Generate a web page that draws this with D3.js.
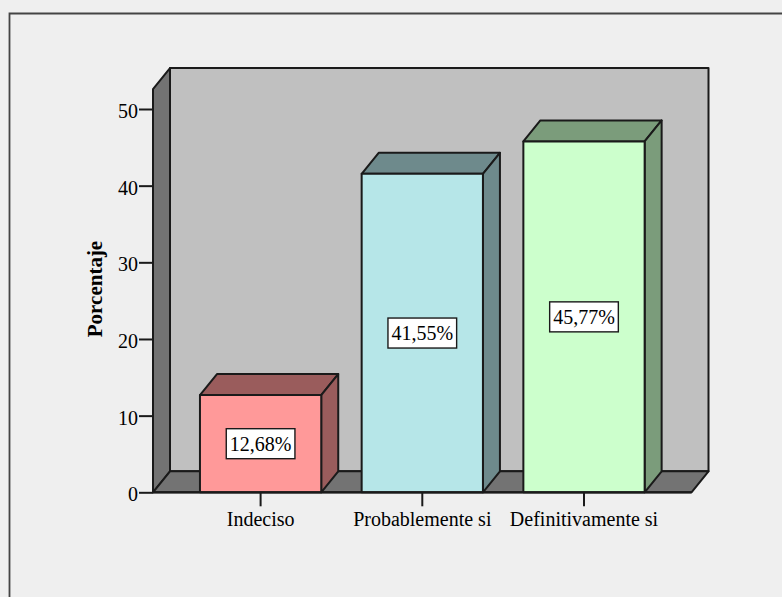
<!DOCTYPE html>
<html><head><meta charset="utf-8">
<script src="https://cdn.jsdelivr.net/npm/d3@7"></script>
<style>html,body{margin:0;padding:0;background:#efefef;overflow:hidden}svg{display:block}text{font-family:"Liberation Serif",serif;fill:#000}</style>
</head><body><svg id="c" width="782" height="597"></svg>
<script>
const categories = ["Indeciso","Probablemente si","Definitivamente si"];
const values = [12.68,41.55,45.77];
const labels = ["12,68%","41,55%","45,77%"];
const faceColors = ["#ff9999","#b6e6e8","#ccffcc"];
const sideColors = ["#9a5c5c","#6e8a8c","#7b9c7b"];
const yTicks = [0,10,20,30,40,50];
const yTitle = "Porcentaje";

const svg = d3.select("#c");
const ink = "#1a1a1a";
const dx = 17, dy = -21;
const x = d3.scaleBand().domain(categories).range([179.75,664.85]).paddingInner(0.25).paddingOuter(0.125);
const y = d3.scaleLinear().domain([0,50]).range([492.3,109]);
const plotLeft = 153, plotRight = 691.5, plotTop = y(52.6), plotBot = y(0);

// outer frame
svg.append("path").attr("d","M9.5,597V13.5H782").attr("fill","none").attr("stroke","#444").attr("stroke-width",1.8);

const poly = (pts,fill)=>svg.append("polygon").attr("points",pts.map(p=>p.join(",")).join(" "))
  .attr("fill",fill).attr("stroke",ink).attr("stroke-width",2).attr("stroke-linejoin","round");

// walls and floor
poly([[plotLeft+dx,plotTop+dy],[plotRight+dx,plotTop+dy],[plotRight+dx,plotBot+dy],[plotLeft+dx,plotBot+dy]],"#c0c0c0");
poly([[plotLeft,plotTop],[plotLeft+dx,plotTop+dy],[plotLeft+dx,plotBot+dy],[plotLeft,plotBot]],"#737373");
poly([[plotLeft,plotBot],[plotLeft+dx,plotBot+dy],[plotRight+dx,plotBot+dy],[plotRight,plotBot]],"#737373");

// bars
categories.forEach((c,i)=>{
  const x0 = x(c), x1 = x0+x.bandwidth(), yt = y(values[i]);
  poly([[x0,yt],[x0+dx,yt+dy],[x1+dx,yt+dy],[x1,yt]],sideColors[i]);
  poly([[x1,yt],[x1+dx,yt+dy],[x1+dx,plotBot+dy],[x1,plotBot]],sideColors[i]);
  poly([[x0,yt],[x1,yt],[x1,plotBot],[x0,plotBot]],faceColors[i]);
  const g = svg.append("g");
  const cx = x0+x.bandwidth()/2, cy = (yt+plotBot)/2;
  const r = g.append("rect");
  const t = g.append("text").attr("x",cx).attr("y",cy+7).attr("text-anchor","middle").attr("font-size",20).text(labels[i]);
  const w = t.node().getComputedTextLength()+7;
  r.attr("x",cx-w/2).attr("y",cy-15).attr("width",w).attr("height",30).attr("fill","#fff").attr("stroke",ink).attr("stroke-width",1.4);
});

// axes
const ay = svg.append("g").attr("transform",`translate(${plotLeft},0)`)
  .call(d3.axisLeft(y).tickValues(yTicks).tickSize(14).tickPadding(1).tickFormat(d3.format("d")));
const ax = svg.append("g").attr("transform",`translate(0,${plotBot})`)
  .call(d3.axisBottom(x).tickSize(14).tickPadding(6));
[ay,ax].forEach(a=>{
  a.select(".domain").remove();
  a.selectAll("line").attr("stroke",ink).attr("stroke-width",2);
  a.selectAll("text").attr("font-size",20).attr("font-family","Liberation Serif").attr("fill","#000");
});
ay.selectAll("text").attr("dy","0.42em");
svg.append("line").attr("x1",plotLeft).attr("x2",plotRight).attr("y1",plotBot).attr("y2",plotBot).attr("stroke",ink).attr("stroke-width",2.2);

svg.append("text").attr("transform","translate(102,289) rotate(-90)").attr("text-anchor","middle")
  .attr("font-size",21).attr("font-weight","bold").text(yTitle);
</script></body></html>
